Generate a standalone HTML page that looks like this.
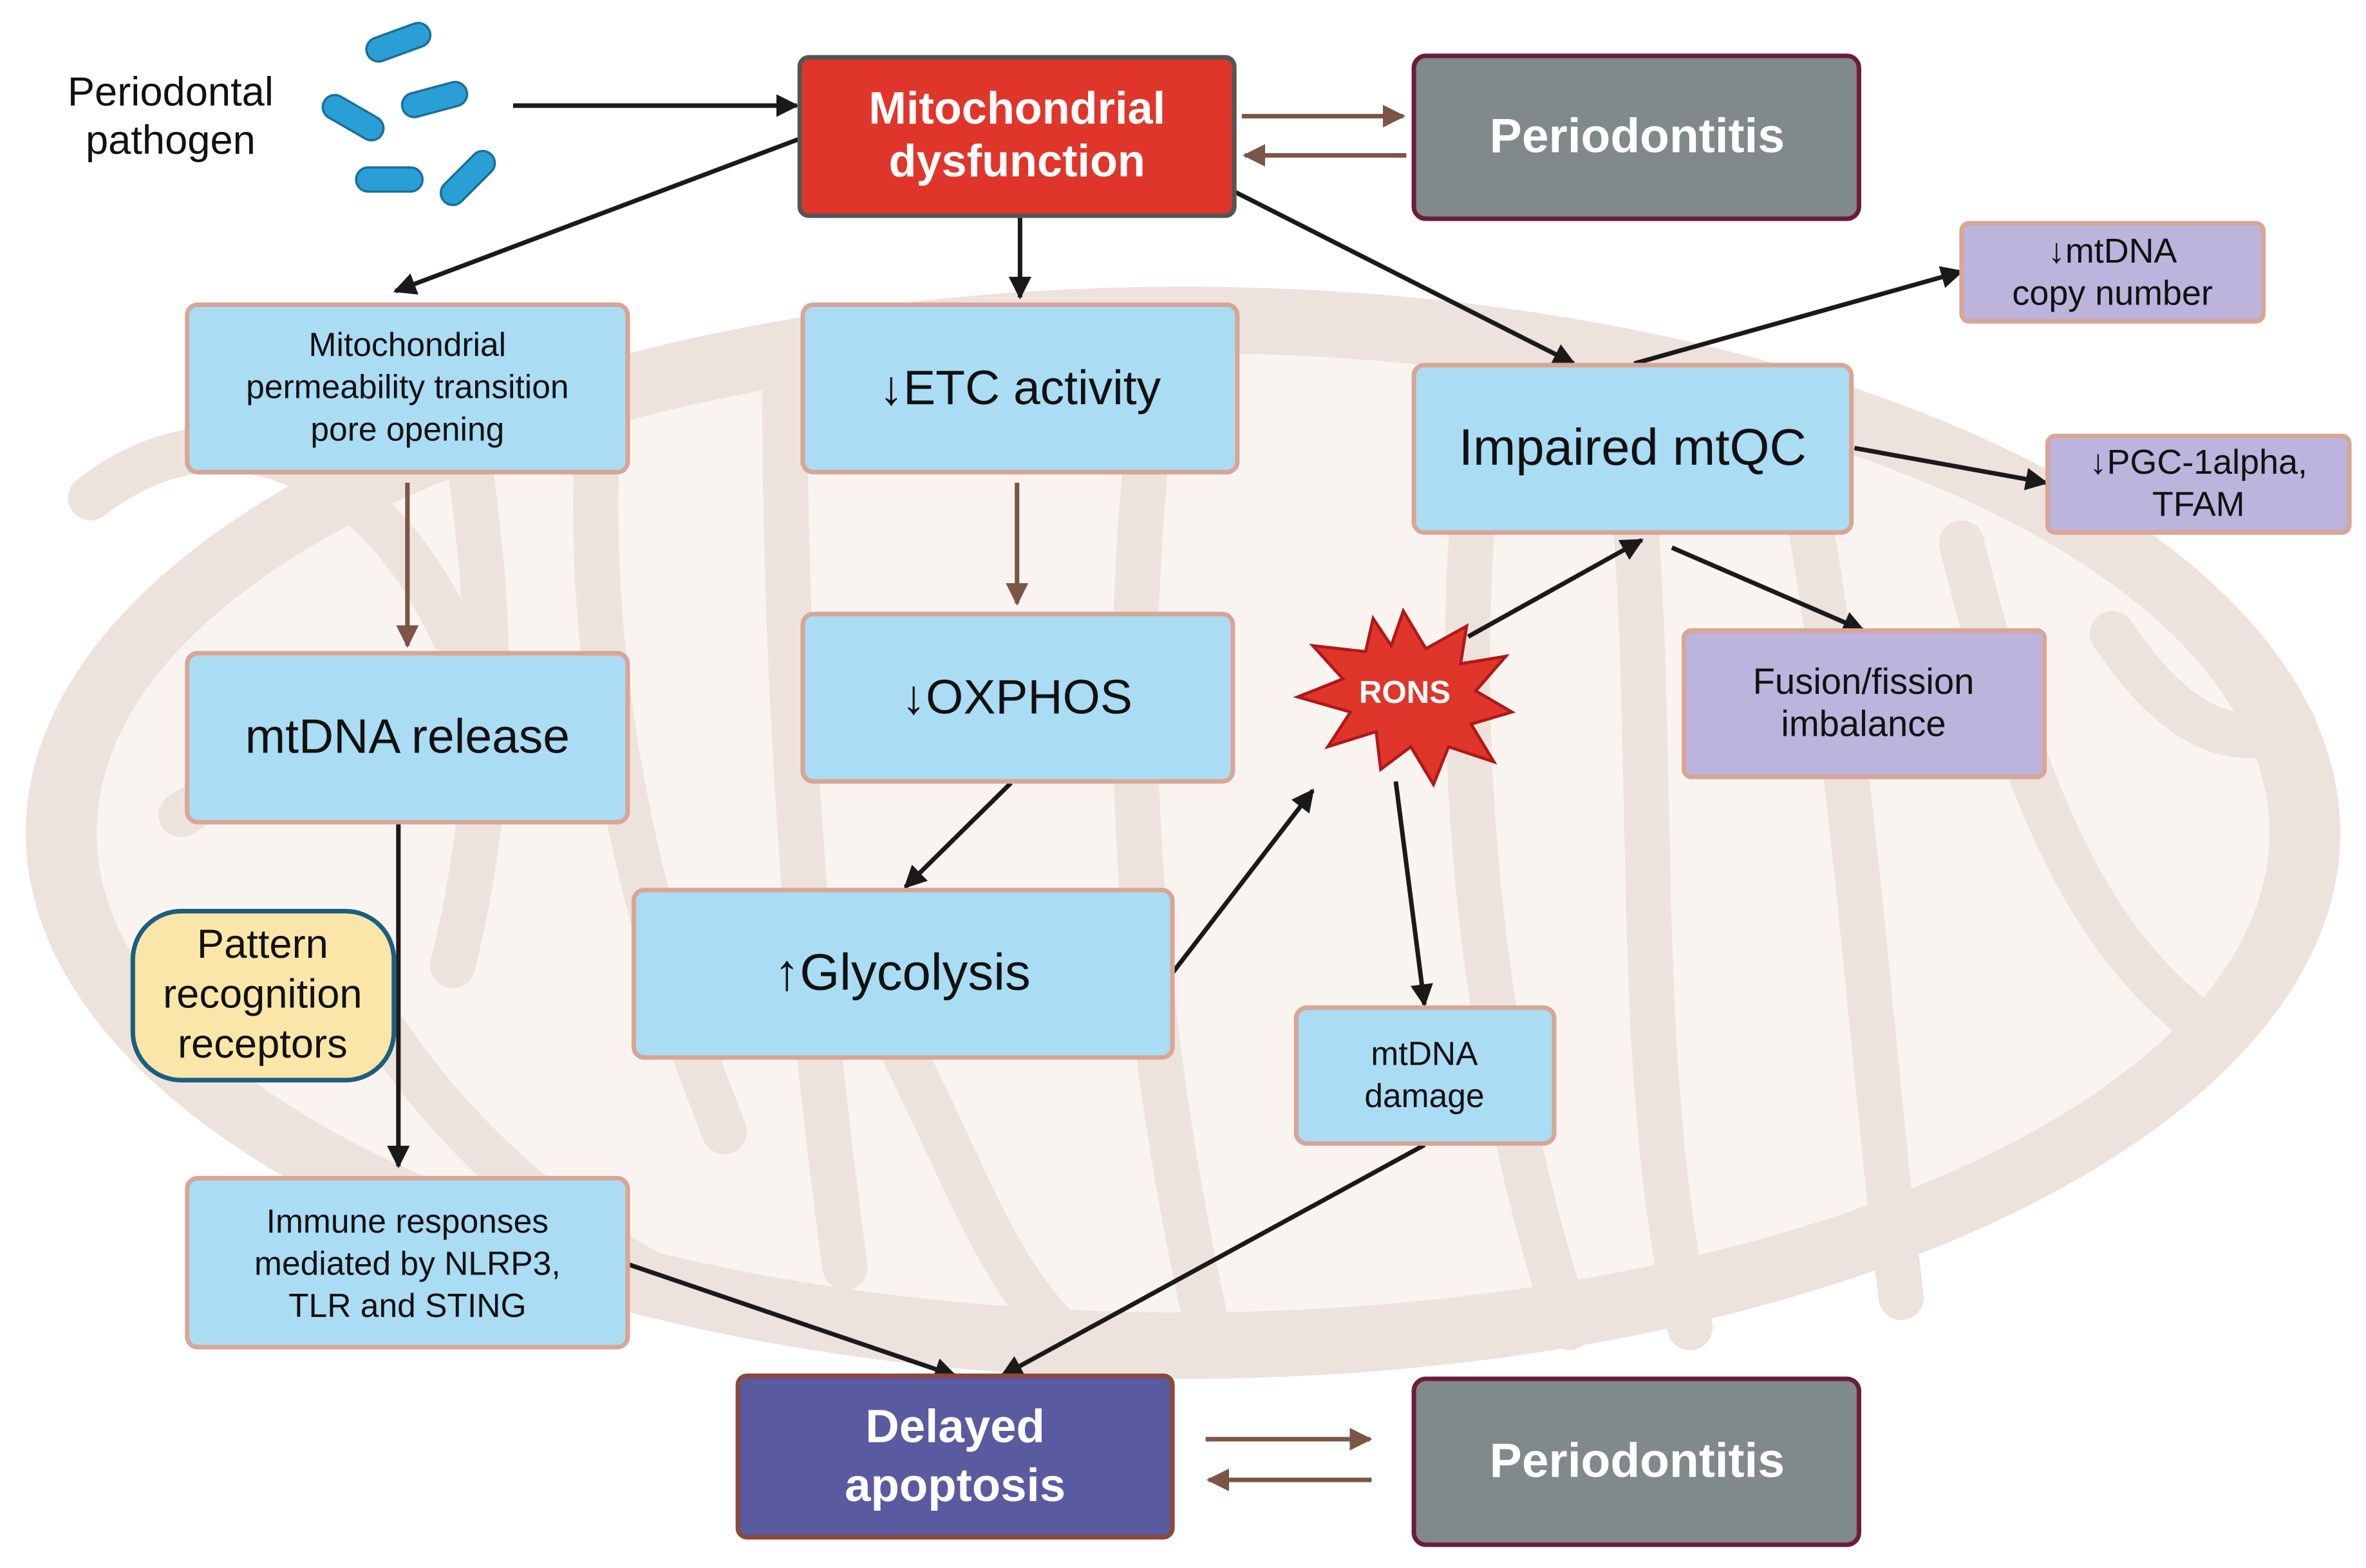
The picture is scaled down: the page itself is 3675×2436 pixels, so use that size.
<!DOCTYPE html>
<html><head><meta charset="utf-8"><style>
html,body{margin:0;padding:0;background:#fff;}
svg{display:block;}
text{font-family:"Liberation Sans","DejaVu Sans",sans-serif;}
</style></head><body>
<svg width="3675" height="2436" viewBox="0 0 1568 1039.4" xmlns="http://www.w3.org/2000/svg">
<defs>
<marker id="ab" viewBox="0 0 10 10" refX="9" refY="5" markerWidth="5" markerHeight="5" orient="auto"><path d="M0,0L10,5L0,10z" fill="#1a1a1a"/></marker>
<marker id="ar" viewBox="0 0 10 10" refX="9" refY="5" markerWidth="5" markerHeight="5" orient="auto"><path d="M0,0L10,5L0,10z" fill="#7a5548"/></marker>
</defs>
<rect width="1568" height="1040" fill="#fff"/>
<!-- mitochondrion -->
<ellipse cx="784" cy="552" rx="767" ry="362" fill="#eee2dd"/>
<ellipse cx="784" cy="552" rx="720" ry="318" fill="#faf4f1"/>
<g fill="none" stroke="#eee2dd" stroke-width="30" stroke-linecap="round">
<path d="M60,330 C150,260 250,310 300,420"/>
<path d="M120,540 C180,500 260,520 330,500"/>
<path d="M300,240 C330,400 330,520 300,640"/>
<path d="M400,240 C380,420 420,600 480,750"/>
<path d="M520,250 C520,420 530,620 560,840"/>
<path d="M760,300 C740,500 760,700 800,880"/>
<path d="M980,300 C960,480 980,700 1040,880"/>
<path d="M1080,300 C1100,500 1080,700 1120,880"/>
<path d="M1200,350 C1230,520 1240,700 1260,860"/>
<path d="M1300,360 C1340,520 1380,620 1460,680"/>
<path d="M1400,420 C1440,480 1480,500 1520,480"/>
<path d="M240,660 C300,760 380,820 460,860"/>
<path d="M600,700 C640,780 660,840 700,880"/>
</g>
<!-- bacteria -->
<g fill="#2a9fd6" stroke="#1a6f9a" stroke-width="1.5">
<rect x="242" y="20" width="44" height="16" rx="8" transform="rotate(-20 264 28)"/>
<rect x="266" y="58" width="44" height="16" rx="8" transform="rotate(-15 288 66)"/>
<rect x="212" y="70" width="44" height="16" rx="8" transform="rotate(30 234 78)"/>
<rect x="236" y="111" width="44" height="16" rx="8"/>
<rect x="288" y="110" width="44" height="16" rx="8" transform="rotate(-45 310 118)"/>
</g>
<text x="113" y="70" font-size="27" text-anchor="middle" fill="#111">Periodontal</text>
<text x="113" y="102" font-size="27" text-anchor="middle" fill="#111">pathogen</text>
<!-- arrows -->
<g stroke="#1a1a1a" stroke-width="3" fill="none" marker-end="url(#ab)">
<line x1="340" y1="70" x2="528" y2="70"/>
<line x1="530" y1="92" x2="262" y2="193"/>
<line x1="676" y1="143" x2="676" y2="197"/>
<line x1="818" y1="127" x2="1043" y2="241"/>
<line x1="264" y1="545" x2="264" y2="773"/>
<line x1="670" y1="519" x2="600" y2="588"/>
<line x1="777" y1="645" x2="870" y2="524"/>
<line x1="973" y1="422" x2="1088" y2="358"/>
<line x1="1108" y1="363" x2="1235" y2="418"/>
<line x1="1083" y1="241" x2="1300" y2="180"/>
<line x1="1229" y1="297" x2="1356" y2="320"/>
<line x1="925" y1="518" x2="944" y2="666"/>
<line x1="416" y1="838" x2="633" y2="912"/>
<line x1="944" y1="759" x2="664" y2="912"/>
</g>
<g stroke="#7a5548" stroke-width="3" fill="none" marker-end="url(#ar)">
<line x1="823" y1="77" x2="930" y2="77"/>
<line x1="932" y1="103" x2="825" y2="103"/>
<line x1="270" y1="320" x2="270" y2="428"/>
<line x1="674" y1="320" x2="674" y2="400"/>
<line x1="799" y1="954" x2="908" y2="954"/>
<line x1="909" y1="981" x2="801" y2="981"/>
</g>
<!-- blue boxes -->
<g fill="#aadcf4" stroke="#d9a595" stroke-width="3">
<rect x="124" y="202" width="292" height="111" rx="7"/>
<rect x="532" y="202" width="288" height="111" rx="7"/>
<rect x="124" y="433" width="292" height="112" rx="7"/>
<rect x="532" y="407" width="285" height="111" rx="7"/>
<rect x="420" y="590" width="357" height="111" rx="7"/>
<rect x="937" y="242" width="290" height="111" rx="7"/>
<rect x="859" y="668" width="171" height="90" rx="7"/>
<rect x="124" y="781" width="292" height="112" rx="7"/>
</g>
<g fill="#bcb4dc" stroke="#d9a595" stroke-width="3">
<rect x="1300" y="148" width="200" height="65" rx="5"/>
<rect x="1357" y="289" width="200" height="64" rx="5"/>
<rect x="1116" y="418" width="239" height="97" rx="5"/>
</g>
<rect x="530" y="38" width="288" height="105" rx="6" fill="#e0352b" stroke="#555" stroke-width="3"/>
<rect x="937" y="37" width="295" height="108" rx="8" fill="#808a8a" stroke="#6b1d3a" stroke-width="3"/>
<rect x="937" y="914" width="295" height="110" rx="8" fill="#808a8a" stroke="#6b1d3a" stroke-width="3"/>
<rect x="489" y="912" width="288" height="107" rx="6" fill="#5a5aa0" stroke="#8a4a3a" stroke-width="3"/>
<rect x="88" y="604" width="173" height="112" rx="32" fill="#fae6a8" stroke="#1c5e80" stroke-width="3"/>
<!-- RONS star -->
<polygon points="930,405 945,430 972,415 968,440 998,435 978,458 1002,472 975,480 990,505 960,495 950,520 935,495 915,510 912,485 880,495 895,472 860,462 890,450 870,428 905,432 910,410 922,428" fill="#e0352b" stroke="#b01818" stroke-width="2"/>
<text x="931" y="466" font-size="21" font-weight="bold" fill="#fff" text-anchor="middle">RONS</text>
<!-- texts -->
<g fill="#111" text-anchor="middle">
<text x="270" y="236" font-size="22">Mitochondrial</text>
<text x="270" y="264" font-size="22">permeability transition</text>
<text x="270" y="292" font-size="22">pore opening</text>
<text x="676" y="268" font-size="32">↓ETC activity</text>
<text x="270" y="499" font-size="32">mtDNA release</text>
<text x="674" y="473" font-size="32">↓OXPHOS</text>
<text x="598" y="656" font-size="34">↑Glycolysis</text>
<text x="1082" y="308" font-size="34">Impaired mtQC</text>
<text x="944" y="706" font-size="22">mtDNA</text>
<text x="944" y="734" font-size="22">damage</text>
<text x="270" y="817" font-size="22">Immune responses</text>
<text x="270" y="845" font-size="22">mediated by NLRP3,</text>
<text x="270" y="873" font-size="22">TLR and STING</text>
<text x="1400" y="174" font-size="23">↓mtDNA</text>
<text x="1400" y="202" font-size="23">copy number</text>
<text x="1457" y="314" font-size="23">↓PGC-1alpha,</text>
<text x="1457" y="342" font-size="23">TFAM</text>
<text x="1235" y="460" font-size="24">Fusion/fission</text>
<text x="1235" y="488" font-size="24">imbalance</text>
<text x="174" y="635" font-size="27">Pattern</text>
<text x="174" y="668" font-size="27">recognition</text>
<text x="174" y="701" font-size="27">receptors</text>
</g>
<g fill="#fff" font-weight="bold" text-anchor="middle">
<text x="674" y="82" font-size="30">Mitochondrial</text>
<text x="674" y="117" font-size="30">dysfunction</text>
<text x="1085" y="101" font-size="32">Periodontitis</text>
<text x="1085" y="979" font-size="32">Periodontitis</text>
<text x="633" y="956" font-size="31">Delayed</text>
<text x="633" y="995" font-size="31">apoptosis</text>
</g>
</svg>
</body></html>
